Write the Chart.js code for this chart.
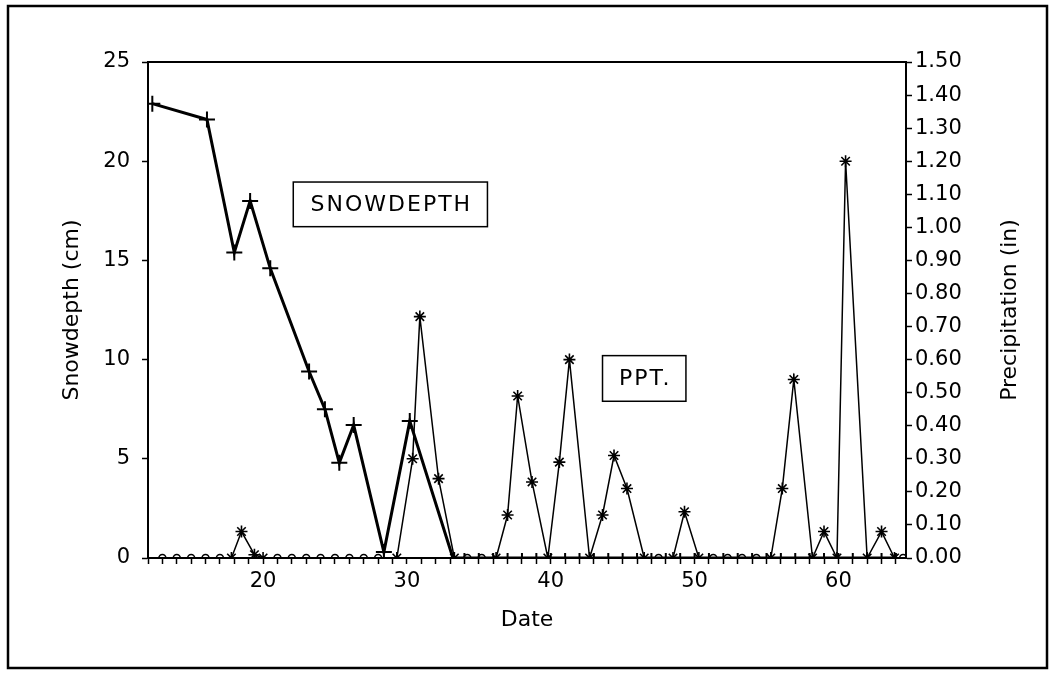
<!DOCTYPE html>
<html>
<head>
<meta charset="utf-8">
<script src="https://cdn.jsdelivr.net/npm/chart.js@4.4.1/dist/chart.umd.min.js"></script>
<style>
  html, body { margin: 0; padding: 0; background: #fff; }
  #wrap { width: 1052px; height: 673px; position: relative; }
</style>
</head>
<body>
<div id="wrap"><canvas id="c" width="1052" height="673"></canvas></div>
<script>
// snow depth (cm) by day
const snowDays = [12.3, 16.1, 18.0, 19.1, 20.5, 23.2, 24.3, 25.3, 26.3, 28.4, 30.2, 33.2,
  34, 35, 36, 37, 38, 39, 40, 41, 42, 43, 44, 45, 46, 47, 48, 49, 50, 51, 52, 53, 54, 55,
  56, 57, 58, 59, 60, 61, 62, 63, 64];
const snowCm = [22.9, 22.1, 15.4, 18.0, 14.6, 9.4, 7.5, 4.8, 6.7, 0.3, 6.9, 0,
  0, 0, 0, 0, 0, 0, 0, 0, 0, 0, 0, 0, 0, 0, 0, 0, 0, 0, 0, 0, 0, 0,
  0, 0, 0, 0, 0, 0, 0, 0, 0];

// precipitation (in) by day
const pptDays = [13, 14, 15, 16, 17, 17.8, 18.5, 19.4, 20, 21, 22, 23, 24, 25, 26, 27, 28,
  29.3, 30.4, 30.9, 32.2, 33.3, 34.2, 35.2, 36.2, 37.0, 37.7, 38.7, 39.8, 40.6, 41.3,
  42.7, 43.6, 44.4, 45.3, 46.5, 47.5, 48.5, 49.3, 50.3, 51.3, 52.3, 53.3, 54.3, 55.3,
  56.1, 56.9, 58.2, 59.0, 59.9, 60.5, 62.0, 63.0, 63.9, 64.5];
const pptIn = [0, 0, 0, 0, 0, 0, 0.08, 0.01, 0, 0, 0, 0, 0, 0, 0, 0, 0,
  0, 0.30, 0.73, 0.24, 0, 0, 0, 0, 0.13, 0.49, 0.23, 0, 0.29, 0.60,
  0, 0.13, 0.31, 0.21, 0, 0, 0, 0.14, 0, 0, 0, 0, 0, 0,
  0.21, 0.54, 0, 0.08, 0, 1.20, 0, 0.08, 0, 0];

const xTickLabels = [20, 30, 40, 50, 60];
const snowTicks = [0, 5, 10, 15, 20, 25];

const FONT = 'DejaVu Sans';

const labelBoxes = [
  { text: 'SNOWDEPTH', x0: 22.1, x1: 35.6, y0: 18.95, y1: 16.7 },
  { text: 'PPT.', x0: 43.6, x1: 49.4, y0: 10.2, y1: 7.9 }
];

// circles where precip is zero between zeros, stars elsewhere
const pptStyle = pptIn.map((v, i) => (v === 0 && !pptIn[i - 1] && !pptIn[i + 1]) ? 'circle' : 'star');
const pptRadius = pptStyle.map(s => s === 'circle' ? 3.5 : 6);
const snowRadius = snowCm.map(v => v === 0 ? 5 : 8);

const framePlugin = {
  id: 'frame',
  afterDraw(chart) {
    const { ctx, chartArea: a, scales } = chart;
    ctx.save();
    ctx.strokeStyle = '#000';
    // top edge of plot box
    ctx.lineWidth = 2;
    ctx.beginPath();
    ctx.moveTo(a.left, a.top);
    ctx.lineTo(a.right, a.top);
    ctx.stroke();
    // outer frame
    ctx.lineWidth = 2.5;
    ctx.strokeRect(8, 6, 1039, 662);
    // label boxes
    ctx.lineWidth = 1.5;
    ctx.font = '22px "' + FONT + '"';
    ctx.letterSpacing = '2px';
    ctx.fillStyle = '#000';
    ctx.textAlign = 'center';
    ctx.textBaseline = 'middle';
    labelBoxes.forEach(b => {
      const x0 = scales.x.getPixelForValue(b.x0), x1 = scales.x.getPixelForValue(b.x1);
      const y0 = scales.y.getPixelForValue(b.y0), y1 = scales.y.getPixelForValue(b.y1);
      ctx.strokeRect(x0, y0, x1 - x0, y1 - y0);
      ctx.fillText(b.text, (x0 + x1) / 2 + 1, (y0 + y1) / 2 + 1);
    });
    // right axis title, reading upward like the left one
    ctx.letterSpacing = '0px';
    ctx.translate(1010, (a.top + a.bottom) / 2);
    ctx.rotate(-Math.PI / 2);
    ctx.fillText('Precipitation (in)', 0, 0);
    ctx.restore();
  }
};

new Chart(document.getElementById('c'), {
  type: 'line',
  data: {
    datasets: [
      {
        label: 'SNOWDEPTH',
        data: snowDays.map((d, i) => ({ x: d, y: snowCm[i] })),
        yAxisID: 'y',
        borderColor: '#000',
        backgroundColor: '#000',
        borderWidth: 3,
        pointStyle: 'cross',
        pointRadius: snowRadius,
        pointBorderWidth: 2,
        tension: 0
      },
      {
        label: 'PPT.',
        data: pptDays.map((d, i) => ({ x: d, y: pptIn[i] })),
        yAxisID: 'y1',
        borderColor: '#000',
        backgroundColor: 'rgba(0,0,0,0)',
        borderWidth: 1.5,
        pointStyle: pptStyle,
        pointRadius: pptRadius,
        pointBorderWidth: 1.6,
        tension: 0
      }
    ]
  },
  options: {
    responsive: false,
    animation: false,
    devicePixelRatio: 1,
    layout: { padding: { left: 55, right: 25, top: 62, bottom: 36 } },
    plugins: { legend: { display: false }, tooltip: { enabled: false } },
    scales: {
      x: {
        type: 'linear', min: 12, max: 64.7,
        afterFit: s => { s.height = 79; },
        ticks: {
          stepSize: 1, autoSkip: false, maxRotation: 0, includeBounds: false,
          color: '#000', font: { family: FONT, size: 21 }, padding: 5,
          callback: v => xTickLabels.includes(v) ? String(v) : ''
        },
        grid: { drawOnChartArea: false, tickLength: 6, tickColor: '#000', tickWidth: 1.5 },
        border: { color: '#000', width: 2 },
        title: { display: true, text: 'Date', color: '#000', font: { family: FONT, size: 22 } }
      },
      y: {
        position: 'left', min: 0, max: 25,
        afterFit: s => { s.width = 93; },
        afterBuildTicks: s => { s.ticks = snowTicks.map(v => ({ value: v })); },
        ticks: { color: '#000', font: { family: FONT, size: 21 }, padding: 12 },
        grid: { drawOnChartArea: false, tickLength: 6, tickColor: '#000', tickWidth: 1.5 },
        border: { color: '#000', width: 2 },
        title: { display: true, text: 'Snowdepth (cm)', color: '#000', font: { family: FONT, size: 22 } }
      },
      y1: {
        position: 'right', min: 0, max: 1.5,
        afterFit: s => { s.width = 121; },
        ticks: {
          stepSize: 0.1, autoSkip: false, color: '#000', font: { family: FONT, size: 21 }, padding: 3,
          callback: v => Number(v).toFixed(2)
        },
        grid: { drawOnChartArea: false, tickLength: 6, tickColor: '#000', tickWidth: 1.5 },
        border: { color: '#000', width: 2 }
      }
    }
  },
  plugins: [framePlugin]
});
</script>
</body>
</html>
